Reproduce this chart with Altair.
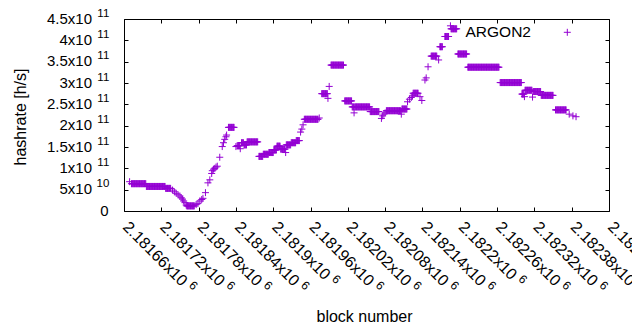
import altair as alt
import pandas as pd

FONT = "Liberation Sans"
COLOR = "#9400d3"
PLUS = "M-1,0L1,0M0,-1L0,1"
series_name = "ARGON2"

# Runs of consecutive blocks sharing one hashrate reading (value in units of 1e11 h/s)
run_start = [2181669, 2181672, 2181696, 2181727, 2181738, 2181741, 2181744, 2181747, 2181750, 2181752,
             2181754, 2181756, 2181758, 2181760, 2181761, 2181776, 2181779, 2181782, 2181785, 2181787,
             2181791, 2181795, 2181798, 2181801, 2181802, 2181804, 2181806, 2181808, 2181810, 2181814,
             2181818, 2181820, 2181822, 2181824, 2181825, 2181828, 2181840, 2181842, 2181847, 2181849,
             2181853, 2181858, 2181877, 2181884, 2181893, 2181901, 2181906, 2181912, 2181920, 2181921,
             2181929, 2181937, 2181944, 2181946, 2181948, 2181950, 2181974, 2181978, 2181988, 2181990,
             2181993, 2182015, 2182027, 2182030, 2182031, 2182056, 2182074, 2182076, 2182078, 2182080,
             2182082, 2182106, 2182107, 2182116, 2182119, 2182122, 2182124, 2182125, 2182136, 2182139,
             2182144, 2182146, 2182149, 2182154, 2182166, 2182168, 2182176, 2182185, 2182186, 2182197,
             2182213, 2182265, 2182300, 2182304, 2182305, 2182317, 2182318, 2182331, 2182354, 2182376,
             2182382, 2182387]
run_end = [2181669, 2181695, 2181726, 2181735, 2181738, 2181741, 2181744, 2181747, 2181750, 2181752,
           2181754, 2181756, 2181758, 2181760, 2181773, 2181776, 2181779, 2181782, 2181785, 2181787,
           2181791, 2181795, 2181798, 2181801, 2181802, 2181804, 2181806, 2181808, 2181810, 2181814,
           2181818, 2181820, 2181822, 2181824, 2181825, 2181837, 2181840, 2181846, 2181847, 2181852,
           2181857, 2181875, 2181883, 2181892, 2181900, 2181905, 2181911, 2181919, 2181920, 2181928,
           2181936, 2181942, 2181944, 2181946, 2181948, 2181972, 2181974, 2181987, 2181988, 2181990,
           2182013, 2182026, 2182029, 2182030, 2182055, 2182070, 2182074, 2182076, 2182078, 2182080,
           2182105, 2182106, 2182115, 2182116, 2182119, 2182122, 2182124, 2182133, 2182136, 2182139,
           2182144, 2182146, 2182149, 2182163, 2182166, 2182172, 2182182, 2182185, 2182195, 2182211,
           2182263, 2182299, 2182303, 2182304, 2182316, 2182317, 2182330, 2182350, 2182371, 2182376,
           2182382, 2182387]
run_value = [0.687, 0.64, 0.575, 0.53, 0.49, 0.45, 0.415, 0.38, 0.35, 0.31,
             0.28, 0.235, 0.195, 0.14, 0.12, 0.15, 0.18, 0.234, 0.27, 0.297,
             0.43, 0.66, 0.73, 0.88, 0.945, 0.98, 1.0, 1.03, 1.05, 1.26,
             1.51, 1.6, 1.68, 1.74, 1.78, 1.96, 1.51, 1.53, 1.46, 1.6,
             1.55, 1.62, 1.28, 1.33, 1.37, 1.43, 1.52, 1.45, 1.37, 1.55,
             1.6, 1.65, 1.85, 1.92, 2.02, 2.15, 2.18, 2.75, 2.64, 2.92,
             3.42, 2.58, 2.44, 2.3, 2.44, 2.33, 2.17, 2.23, 2.27, 2.3,
             2.35, 2.27, 2.39, 2.56, 2.62, 2.66, 2.7, 2.76, 2.68, 2.59,
             3.07, 3.12, 3.38, 3.63, 3.54, 3.85, 4.09, 4.34, 4.27, 3.68,
             3.37, 3.01, 2.74, 2.68, 2.83, 2.67, 2.8, 2.71, 2.37, 2.27,
             2.23, 2.21]

x_ticks = [2181660, 2181720, 2181780, 2181840, 2181900, 2181960, 2182020,
           2182080, 2182140, 2182200, 2182260, 2182320, 2182380, 2182440]
x_mantissa = ["2.18166x10", "2.18172x10", "2.18178x10", "2.18184x10", "2.1819x10", "2.18196x10",
              "2.18202x10", "2.18208x10", "2.18214x10", "2.1822x10", "2.18226x10", "2.18232x10",
              "2.18238x10", "2.18244x10"]
x_exponent = ["6"] * len(x_ticks)
y_ticks = [0, 5e10, 1e11, 1.5e11, 2e11, 2.5e11, 3e11, 3.5e11, 4e11, 4.5e11]
y_mantissa = ["0", "5x10", "1x10", "1.5x10", "2x10", "2.5x10", "3x10", "3.5x10", "4x10", "4.5x10"]
y_exponent = ["", "10", "11", "11", "11", "11", "11", "11", "11", "11"]

rows = []
for s, e, v in zip(run_start, run_end, run_value):
    for b in range(s, e + 1):
        rows.append({"block": b, "hashrate": v * 1e11})
df = pd.DataFrame(rows)
frame_df = pd.DataFrame({"block": [x_ticks[0], x_ticks[-1]], "hashrate": [y_ticks[0], y_ticks[-1]]})
ylab_df = pd.DataFrame({"v": y_ticks, "m": y_mantissa, "e": y_exponent})
xlab_df = pd.DataFrame({"v": x_ticks, "m": x_mantissa, "e": x_exponent})

W, H = 485, 192

xs = alt.Scale(domain=[x_ticks[0], x_ticks[-1]], nice=False, zero=False)
ys = alt.Scale(domain=[y_ticks[0], y_ticks[-1]], nice=False, zero=False)

points = alt.Chart(df).mark_point(
    shape=PLUS, filled=False, color=COLOR, strokeWidth=1, size=49, opacity=1
).encode(
    x=alt.X("block:Q", scale=xs, axis=alt.Axis(
        orient="bottom", values=x_ticks, labels=False,
        ticks=False, tickSize=0, domain=False, grid=False,
        title="block number", titleFont=FONT, titleFontSize=16, titleFontWeight="normal",
        titleColor="black", titleX=240, titleY=110, titleBaseline="alphabetic", titleAlign="center")),
    y=alt.Y("hashrate:Q", scale=ys, axis=alt.Axis(
        orient="left", values=y_ticks, labels=False,
        ticks=False, tickSize=0, domain=False, grid=False,
        title="hashrate [h/s]", titleFont=FONT, titleFontSize=16, titleFontWeight="normal",
        titleColor="black", titleAngle=270, titleX=-99, titleY=97.5,
        titleBaseline="alphabetic", titleAlign="center")),
)

# y tick labels: mantissa plus raised, smaller exponent
ytext = dict(align="right", baseline="middle", font=FONT, color="black")
y_mant = alt.Chart(ylab_df).transform_filter("datum.e != ''").mark_text(
    fontSize=15, dy=-0.5, **ytext
).encode(x=alt.value(-32), y=alt.Y("v:Q", scale=ys, axis=None), text="m:N")
y_plain = alt.Chart(ylab_df).transform_filter("datum.e == ''").mark_text(
    fontSize=15, dy=-0.5, **ytext
).encode(x=alt.value(-15.5), y=alt.Y("v:Q", scale=ys, axis=None), text="m:N")
y_exp = alt.Chart(ylab_df).transform_filter("datum.e != ''").mark_text(
    fontSize=11.5, dy=-5.5, **ytext
).encode(x=alt.value(-14.7), y=alt.Y("v:Q", scale=ys, axis=None), text="e:N")

# x tick labels, rotated 45 degrees: mantissa then raised exponent
xtext = dict(align="left", baseline="alphabetic", font=FONT, color="black", angle=45)
x_mant = alt.Chart(xlab_df).mark_text(fontSize=16, dx=-1.4, dy=1.4, **xtext).encode(
    x=alt.X("v:Q", scale=xs, axis=None), y=alt.value(H + 17), text="m:N")
x_exp_long = alt.Chart(xlab_df).transform_filter("length(datum.m) == 10").mark_text(
    fontSize=12, dx=86.5, dy=-4.5, **xtext).encode(
    x=alt.X("v:Q", scale=xs, axis=None), y=alt.value(H + 17), text="e:N")
x_exp_short = alt.Chart(xlab_df).transform_filter("length(datum.m) == 9").mark_text(
    fontSize=12, dx=77.6, dy=-4.5, **xtext).encode(
    x=alt.X("v:Q", scale=xs, axis=None), y=alt.value(H + 17), text="e:N")

tick_style = dict(labels=False, ticks=True, tickSize=4, tickColor="black", tickWidth=1,
                  domain=True, domainColor="black", domainWidth=1, grid=False, title=None)

frame_a = alt.Chart(frame_df).mark_point(opacity=0).encode(
    x=alt.X("block:Q", scale=xs, axis=alt.Axis(orient="top", offset=-H, values=x_ticks, **tick_style)),
    y=alt.Y("hashrate:Q", scale=ys, axis=alt.Axis(orient="right", offset=-W, values=y_ticks, **tick_style)),
)
frame_b = alt.Chart(frame_df).mark_point(opacity=0).encode(
    x=alt.X("block:Q", scale=xs, axis=alt.Axis(orient="bottom", offset=-H, values=x_ticks, **tick_style)),
    y=alt.Y("hashrate:Q", scale=ys, axis=alt.Axis(orient="left", offset=-W, values=y_ticks, **tick_style)),
)

legend_df = pd.DataFrame({"name": [series_name]})
legend_text = alt.Chart(legend_df).mark_text(
    align="right", baseline="middle", font=FONT, fontSize=15.5, color="black"
).encode(x=alt.value(407), y=alt.value(13), text="name:N")
legend_sym = alt.Chart(legend_df).mark_point(
    shape=PLUS, filled=False, color=COLOR, strokeWidth=1, size=49, opacity=1
).encode(x=alt.value(443.3), y=alt.value(13.3))

chart = alt.layer(
    points, y_mant, y_plain, y_exp, x_mant, x_exp_long, x_exp_short,
    frame_a, frame_b, legend_text, legend_sym
).resolve_scale(
    x="independent", y="independent"
).resolve_axis(
    x="independent", y="independent"
).properties(
    width=W, height=H,
    autosize=alt.AutoSizeParams(type="none"),
    padding={"left": 116, "top": 11, "right": 23, "bottom": 111},
    background="white",
).configure_view(strokeWidth=0)

chart.save("out.html", embed_options={"renderer": "svg", "actions": False})
